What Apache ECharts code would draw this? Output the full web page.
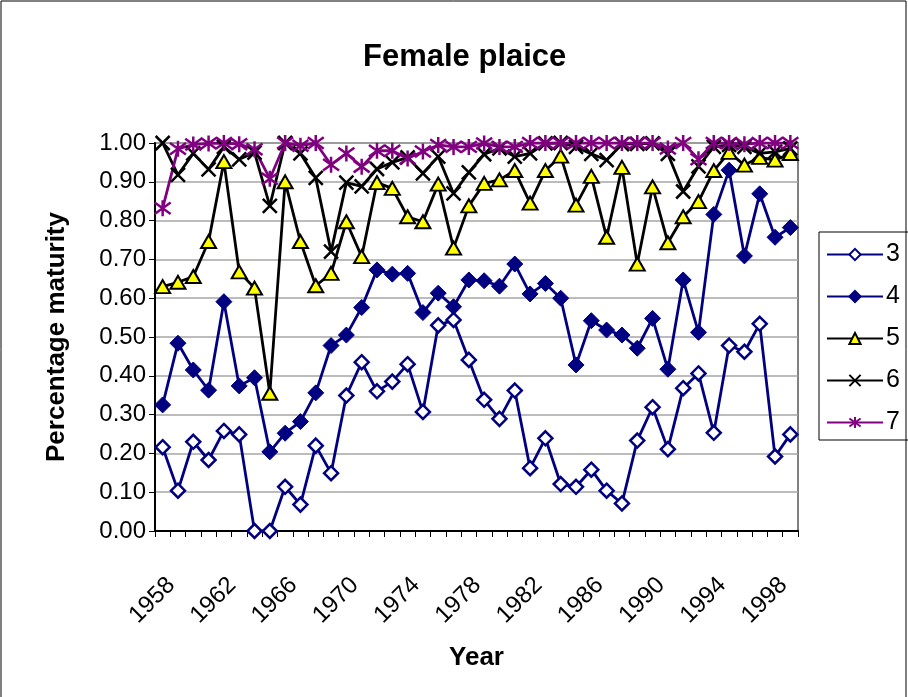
<!DOCTYPE html>
<html>
<head>
<meta charset="utf-8">
<script src="https://cdn.jsdelivr.net/npm/echarts@6/dist/echarts.min.js"></script>
<style>
html,body{margin:0;padding:0;background:#fff;}
#chart{width:908px;height:697px;}
</style>
</head>
<body>
<div id="chart"></div>
<script>
var years = [];
for (var y = 1958; y <= 1999; y++) years.push(String(y));

var age3 = [0.216,0.104,0.23,0.183,0.258,0.249,0,0,0.114,0.068,
            0.22,0.149,0.349,0.435,0.36,0.385,0.43,0.307,0.53,0.544,
            0.441,0.338,0.289,0.362,0.162,0.239,0.121,0.114,0.158,0.104,
            0.071,0.233,0.319,0.211,0.368,0.406,0.253,0.478,0.462,0.534,
            0.192,0.249];
var age4 = [0.325,0.484,0.415,0.363,0.591,0.374,0.395,0.204,0.252,0.282,
            0.356,0.478,0.505,0.576,0.673,0.662,0.664,0.563,0.613,0.578,
            0.647,0.645,0.631,0.688,0.611,0.638,0.6,0.428,0.542,0.518,
            0.505,0.471,0.548,0.417,0.647,0.512,0.816,0.93,0.709,0.869,
            0.757,0.782];
var age5 = [0.63,0.641,0.656,0.746,0.952,0.668,0.626,0.355,0.9,0.746,
            0.632,0.664,0.797,0.707,0.898,0.883,0.81,0.797,0.894,0.729,
            0.838,0.896,0.905,0.929,0.845,0.929,0.966,0.84,0.914,0.757,
            0.937,0.688,0.887,0.743,0.81,0.849,0.929,0.976,0.943,0.963,
            0.956,0.973];
var age6 = [1.0,0.918,0.973,0.932,0.99,0.958,0.975,0.838,1.0,0.973,
            0.91,0.72,0.898,0.888,0.933,0.95,0.963,0.922,0.965,0.87,
            0.924,0.971,0.986,0.965,0.973,0.999,1.0,0.99,0.972,0.956,
            0.997,0.998,0.999,0.972,0.875,0.94,0.99,0.995,0.99,0.973,
            0.977,0.986];
var age7 = [0.832,0.985,0.996,0.999,1.0,0.997,0.984,0.908,1.0,0.993,
            1.0,0.944,0.973,0.939,0.98,0.98,0.96,0.978,0.995,0.99,
            0.99,0.999,0.99,0.99,1.0,1.0,1.0,1.0,1.0,1.0,
            1.0,1.0,1.0,0.986,1.0,0.958,1.0,1.0,0.997,1.0,
            1.0,1.0];
var seriesNames = ['3','4','5','6','7'];

var FONT = 'Liberation Sans, Arial, sans-serif';
var NAVY = '#000080', PURPLE = '#800080';
var xPath = 'path://M0,0L10,10M10,0L0,10';
var starPath = 'path://M0,0L10,10M10,0L0,10M5,-2L5,12';

var chart = echarts.init(document.getElementById('chart'));
chart.setOption({
  animation: false,
  backgroundColor: '#fff',
  textStyle: { fontFamily: FONT },
  title: {
    text: 'Female plaice', left: 358, top: 37,
    textStyle: { fontFamily: FONT, fontSize: 31, fontWeight: 'bold', color: '#000' }
  },
  graphic: [{
    type: 'rect', shape: { x: 1, y: 1, width: 905, height: 720 },
    style: { fill: 'none', stroke: '#000', lineWidth: 1 }, silent: true
  }],
  legend: {
    orient: 'vertical', left: 819, top: 232,
    padding: [10, 60, 5, 7],
    itemGap: 17, itemWidth: 56, itemHeight: 14,
    borderColor: '#000', borderWidth: 1,
    textStyle: { fontFamily: FONT, fontSize: 25, color: '#000', padding: [0,0,0,-2] },
    data: seriesNames
  },
  grid: {
    left: 155, right: 110, top: 143, bottom: 166,
    show: true, borderColor: '#808080', borderWidth: 2, backgroundColor: '#fff'
  },
  xAxis: {
    type: 'category', data: years, boundaryGap: true,
    name: 'Year', nameLocation: 'middle', nameGap: 114,
    nameTextStyle: { fontFamily: FONT, fontSize: 26, fontWeight: 'bold', color: '#000' },
    axisLine: { lineStyle: { color: '#000', width: 2 } },
    axisTick: { show: true, interval: 0, inside: false, length: 6, lineStyle: { color: '#000', width: 1 } },
    axisLabel: { interval: 3, rotate: 45, margin: 42, verticalAlign: 'top',
      fontFamily: FONT, fontSize: 24, color: '#000' },
    splitLine: { show: false }
  },
  yAxis: {
    type: 'value', min: 0, max: 1, interval: 0.1,
    name: 'Percentage maturity', nameLocation: 'middle', nameGap: 85, nameRotate: 90,
    nameTextStyle: { fontFamily: FONT, fontSize: 26, fontWeight: 'bold', color: '#000' },
    axisLine: { show: true, lineStyle: { color: '#000', width: 2 } },
    axisTick: { show: true, length: 6, lineStyle: { color: '#000', width: 1 } },
    axisLabel: { margin: 9, fontFamily: FONT, fontSize: 24, color: '#000',
      formatter: function (v) { return v.toFixed(2); } },
    splitLine: { show: true, lineStyle: { color: '#a6a6a6', width: 1.5 } }
  },
  series: [
    { name: '3', type: 'line', data: age3, symbol: 'diamond', symbolSize: 14, showAllSymbol: true,
      lineStyle: { color: NAVY, width: 2.8 },
      itemStyle: { color: '#fff', borderColor: NAVY, borderWidth: 2.5 } },
    { name: '4', type: 'line', data: age4, symbol: 'diamond', symbolSize: 16, showAllSymbol: true,
      lineStyle: { color: NAVY, width: 2.8 },
      itemStyle: { color: NAVY, borderColor: NAVY, borderWidth: 1 } },
    { name: '5', type: 'line', data: age5, symbol: 'triangle', symbolSize: [15, 13], showAllSymbol: true,
      lineStyle: { color: '#000', width: 2.8 },
      itemStyle: { color: '#ffff00', borderColor: '#000', borderWidth: 2 } },
    { name: '6', type: 'line', data: age6, symbol: xPath, symbolSize: 14, showAllSymbol: true,
      lineStyle: { color: '#000', width: 2.8 },
      itemStyle: { color: '#000', borderColor: '#000', borderWidth: 2.5 } },
    { name: '7', type: 'line', data: age7, symbol: starPath, symbolSize: 16, showAllSymbol: true,
      lineStyle: { color: PURPLE, width: 2.8 },
      itemStyle: { color: PURPLE, borderColor: PURPLE, borderWidth: 2.5 } }
  ]
});
</script>
</body>
</html>
